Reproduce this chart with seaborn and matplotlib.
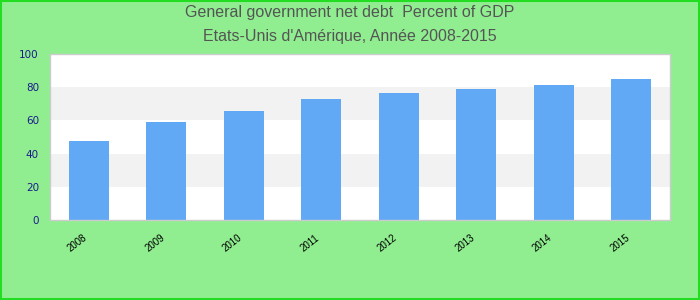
import matplotlib
matplotlib.use("Agg")
import matplotlib.pyplot as plt
import matplotlib.transforms as mtransforms
import seaborn as sns
import pandas as pd

years = ["2008", "2009", "2010", "2011", "2012", "2013", "2014", "2015"]
values = [47.8, 59.0, 65.7, 72.9, 76.5, 78.9, 81.3, 84.9]
y_ticks = [0, 20, 40, 60, 80, 100]
title_line1 = "General government net debt  Percent of GDP"
title_line2 = "Etats-Unis d'Amérique, Année 2008-2015"

sns.set_style("white")
plt.rcParams['font.family'] = ['Liberation Sans', 'DejaVu Sans']

df = pd.DataFrame({"year": years, "value": values})

fig = plt.figure(figsize=(7, 3), dpi=100, facecolor="#90EE90")
fig.patches.append(plt.Rectangle((0.001, 0.002), 0.997, 0.995, transform=fig.transFigure,
                                 fill=False, edgecolor="#22dd22", linewidth=1.5))
ax = fig.add_axes([50/700, 80/300, 620/700, 166/300])
ax.set_facecolor("white")

# alternating bands
for i in range(len(y_ticks) - 1):
    if i % 2 == 1:
        ax.axhspan(y_ticks[i], y_ticks[i+1], color="#f2f2f2", zorder=0, linewidth=0)

sns.barplot(data=df, x="year", y="value", color="#61a9f5", saturation=1, width=0.52,
            linewidth=0, ax=ax, zorder=2)

ax.set_ylim(0, 100)
ax.set_xlim(-0.5, len(years) - 0.5)
ax.set_yticks(y_ticks)
ax.set_yticklabels([str(v) for v in y_ticks], color="#1a1a8c", fontsize=7.5, family="DejaVu Sans")
ax.set_xticks(range(len(years)))
ax.set_xticklabels(years, rotation=38, ha="right", rotation_mode="anchor", fontsize=7, color="black")
ax.tick_params(axis="x", length=0, pad=9)
ax.tick_params(axis="y", length=0, pad=8)
offset = mtransforms.ScaledTranslation(-6/100, 0, fig.dpi_scale_trans)
for lbl in ax.get_xticklabels():
    lbl.set_transform(lbl.get_transform() + offset)
ax.set_xlabel("")
ax.set_ylabel("")
for s in ax.spines.values():
    s.set_color("#cccccc")
    s.set_linewidth(1)

fig.text(0.5, 1 - 13/300, title_line1, ha="center", va="center", fontsize=11.5, color="#555555")
fig.text(0.5, 1 - 36/300, title_line2, ha="center", va="center", fontsize=11.5, color="#555555")

fig.savefig("out.png", dpi=100, facecolor=fig.get_facecolor())
